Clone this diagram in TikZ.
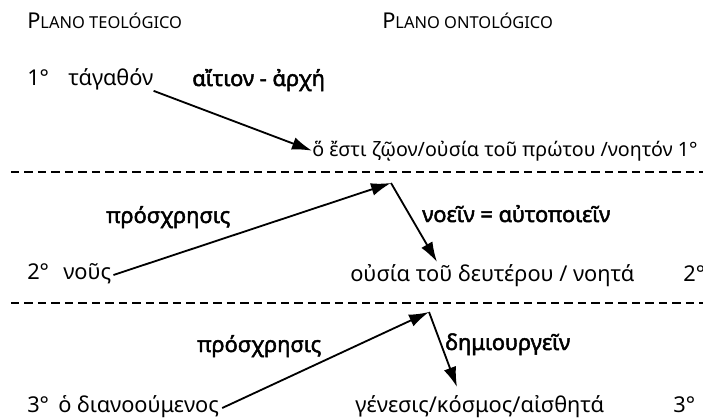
\documentclass[tikz,border=0pt]{standalone}
\usepackage{fontspec}
\setmainfont{Noto Sans}
\newfontfamily\greekbold{Noto Sans}[FakeBold=2.2]
\usetikzlibrary{arrows.meta,calc}

\tikzset{
  txt/.style={anchor=base west,inner sep=0pt,font=\fontsize{15.5}{18}\selectfont},
  bftxt/.style={txt,font=\fontsize{15.5}{18}\selectfont\greekbold},
  arr/.style={line width=1.3pt,-{Latex[length=5mm,width=3.2mm]}},
  sepline/.style={line width=1.4pt,dash pattern=on 6pt off 3.6pt}
}
\newcommand{\plano}[2]{{\fontsize{15.5}{18}\selectfont #1}{\fontsize{11.7}{14}\selectfont #2}}

\begin{document}
\begin{tikzpicture}[x=0.025cm,y=-0.025cm]
    \useasboundingbox (0,0) rectangle (703,420);
    % headings
    \node (hteo) at (27,29) [txt] {\plano{P}{LANO TEOLÓGICO}};
    \node (hont) at (382,29) [txt] {\plano{P}{LANO ONTOLÓGICO}};
    % first level
    \node (n1) at (27,86) [txt] {1°};
    \node (tagathon) at (68,86) [txt] {τάγαθόν};
    \node (aition) at (192,86) [bftxt] {αἴτιον - ἀρχή};
    \node (zoon) at (312,156) [txt,font=\fontsize{14}{16}\selectfont] {ὅ ἔστι ζῷον/οὐσία τοῦ πρώτου /νοητόν 1°};
    \draw[arr] (tagathon.south east) -- (zoon.west);
    \draw[sepline] (11,172) -- (703,172);
    % second level
    \node (prosx1) at (106,223) [bftxt] {πρόσχρησις};
    \node (n2) at (27,279) [txt] {2°};
    \node (nous) at (63,279) [txt] {νοῦς};
    \node (noein) at (422,222) [bftxt] {νοεῖν = αὐτοποιεῖν};
    \node (ousia) at (350,281) [txt] {οὐσία τοῦ δευτέρου / νοητά};
    \node (n2r) at (683,281) [txt] {2°};
    \coordinate (apex2) at (391,183);
    \coordinate (foot2) at (437,262);
    \draw[arr] ($(nous.base east)+(2,-4)$) -- (apex2);
    \draw[arr] (apex2) -- (foot2);
    \draw[sepline] (11,303) -- (703,303);
    % third level
    \node (prosx2) at (197,352) [bftxt] {πρόσχρησις};
    \node (n3) at (27,412) [txt] {3°};
    \node (dianoou) at (58,412) [txt] {ὁ διανοούμενος};
    \node (demiourg) at (445,350) [bftxt] {δημιουργεῖν};
    \node (genesis) at (355,412) [txt] {γένεσις/κόσμος/αἰσθητά};
    \node (n3r) at (673,412) [txt] {3°};
    \coordinate (apex3) at (429,312);
    \coordinate (foot3) at (457,387);
    \draw[arr] ($(dianoou.base east)+(3,-4)$) -- (apex3);
    \draw[arr] (apex3) -- (foot3);
\end{tikzpicture}
\end{document}
